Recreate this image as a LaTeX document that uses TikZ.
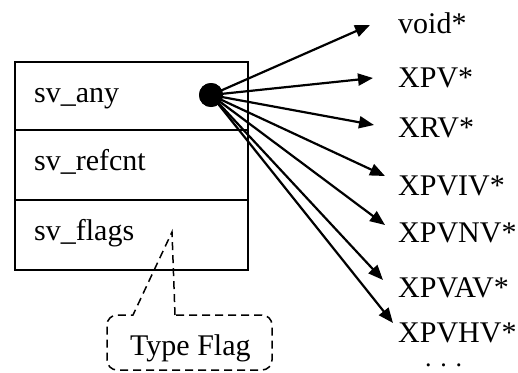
\documentclass[tikz,border=0pt]{standalone}
\usepackage{fontspec}
\setmainfont{Liberation Serif}
\usetikzlibrary{arrows.meta}
\begin{document}
\begin{tikzpicture}[x=1pt,y=-1pt,
  cell/.style={draw,line width=2.2pt,minimum width=233pt,minimum height=70pt,inner sep=0pt,anchor=north west},
  lbl/.style={anchor=base west,inner sep=0pt,font=\fontsize{30}{34}\selectfont},
  ptr/.style={line width=2.2pt,-{Triangle[length=15pt,width=12pt]}},
  callout/.style={line width=1.5pt,dash pattern=on 8pt off 5pt}]
\useasboundingbox (0,0) rectangle (518,372);
% structure cells
\node[cell,minimum height=68pt] (c1) at (14,61) {};
\node[cell] (c2) at (14,129) {};
\node[cell] (c3) at (14,199) {};
\node[lbl] (any) at (34,102) {sv\_any};
\node[lbl] (ref) at (34,170) {sv\_refcnt};
\node[lbl] (flg) at (34,240) {sv\_flags};
% pointer dot
\node[circle,fill=black,minimum size=24pt,inner sep=0pt] (dot) at (211,95) {};
% targets
\node[lbl] (t1) at (398,33) {void*};
\node[lbl] (t2) at (398,87) {XPV*};
\node[lbl] (t3) at (398,137) {XRV*};
\node[lbl] (t4) at (398,195) {XPVIV*};
\node[lbl] (t5) at (398,242) {XPVNV*};
\node[lbl] (t6) at (398,297) {XPVAV*};
\node[lbl] (t7) at (398,342) {XPVHV*};
\node[anchor=base west,inner sep=0pt,font=\fontsize{26}{28}\selectfont] (t8) at (425,366) {.\,\,.\,\,.};
\coordinate (e1) at (370,25);
\coordinate (e2) at (373,78);
\coordinate (e3) at (374,125);
\coordinate (e4) at (385,176);
\coordinate (e5) at (385,225);
\coordinate (e6) at (383,280);
\coordinate (e7) at (393,323);
\foreach \i in {1,...,7} { \draw[ptr] (dot.center) -- (e\i); }
\fill (dot) circle (12pt);
% callout
\coordinate (tip) at (172,232);
\node[lbl] (tf) at (130,355) {Type Flag};
\draw[callout] (175,315) -- (tip) -- (133,315) [rounded corners=10pt] -- (107,315) -- (107,370) -- (272,370) -- (272,315) -- (175,315);
\end{tikzpicture}
\end{document}
